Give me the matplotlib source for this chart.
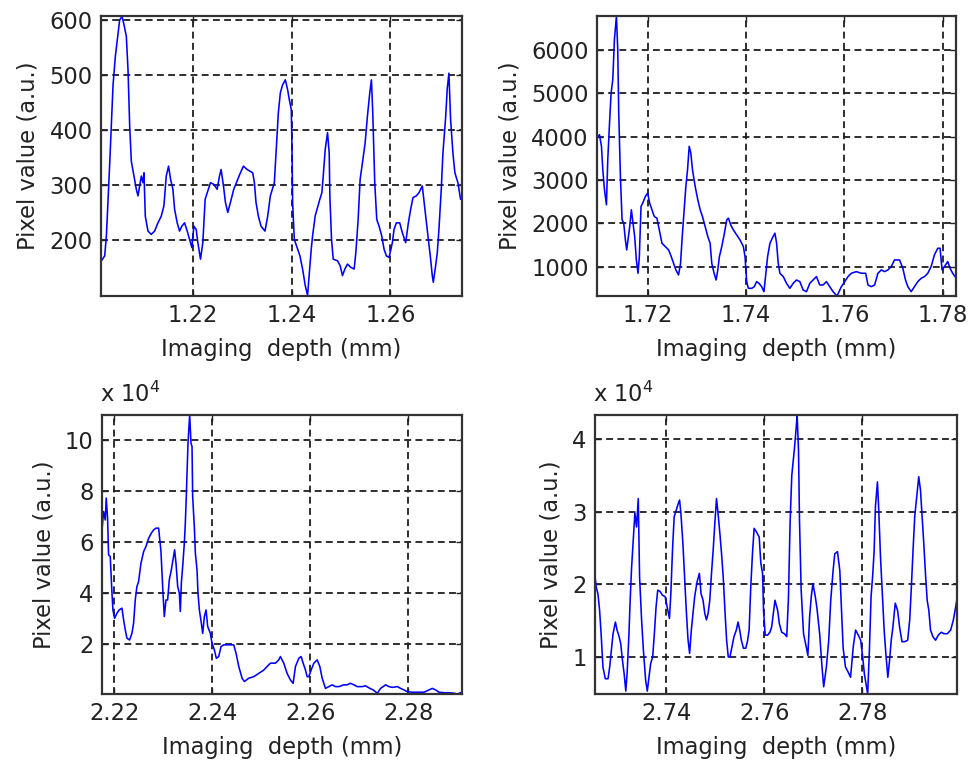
import matplotlib
matplotlib.use("Agg")
import matplotlib.pyplot as plt

plt.rcParams["font.family"] = ["DejaVu Sans"]

# ---- Panel A: 1.20 - 1.275 mm ----
depth_a = [1.20148, 1.20215, 1.20249, 1.20283, 1.20317, 1.20384, 1.20431, 1.20471, 1.20518, 1.20566,
           1.20606, 1.20653, 1.20687, 1.20721, 1.20754, 1.20808, 1.20855, 1.20889, 1.20923, 1.20956,
           1.20990, 1.21010, 1.21037, 1.21091, 1.21158, 1.21226, 1.21293, 1.21360, 1.21414, 1.21461,
           1.21508, 1.21549, 1.21596, 1.21630, 1.21683, 1.21731, 1.21778, 1.21832, 1.21886, 1.21933,
           1.21980, 1.22020, 1.22067, 1.22101, 1.22155, 1.22202, 1.22249, 1.22303, 1.22357, 1.22424,
           1.22492, 1.22539, 1.22572, 1.22620, 1.22660, 1.22707, 1.22761, 1.22828, 1.22896, 1.22963,
           1.23024, 1.23098, 1.23212, 1.23246, 1.23279, 1.23327, 1.23380, 1.23461, 1.23515, 1.23569,
           1.23650, 1.23684, 1.23731, 1.23771, 1.23818, 1.23872, 1.23919, 1.23953, 1.23993, 1.24007,
           1.24020, 1.24054, 1.24121, 1.24168, 1.24222, 1.24276, 1.24323, 1.24370, 1.24397, 1.24424,
           1.24478, 1.24525, 1.24572, 1.24613, 1.24640, 1.24680, 1.24727, 1.24761, 1.24774, 1.24808,
           1.24842, 1.24929, 1.24983, 1.25030, 1.25078, 1.25131, 1.25199, 1.25266, 1.25300, 1.25347,
           1.25387, 1.25434, 1.25488, 1.25535, 1.25582, 1.25616, 1.25643, 1.25683, 1.25724, 1.25771,
           1.25825, 1.25872, 1.25919, 1.25973, 1.26040, 1.26074, 1.26121, 1.26189, 1.26242, 1.26310,
           1.26364, 1.26411, 1.26458, 1.26525, 1.26579, 1.26646, 1.26714, 1.26768, 1.26815, 1.26848,
           1.26869, 1.26916, 1.26950, 1.26983, 1.27030, 1.27064, 1.27118, 1.27152, 1.27185, 1.27219,
           1.27266, 1.27306, 1.27367, 1.27421]
pixel_a = [162, 171, 207, 274, 340, 482, 534, 564, 600, 606,
           591, 570, 509, 407, 343, 316, 292, 280, 298, 316,
           304, 322, 243, 216, 210, 216, 231, 243, 262, 316,
           334, 310, 292, 256, 231, 216, 225, 231, 216, 201,
           186, 225, 219, 195, 165, 195, 274, 289, 304, 301,
           292, 316, 328, 298, 268, 250, 268, 292, 307, 322,
           334, 328, 322, 304, 268, 243, 225, 216, 243, 280,
           304, 358, 431, 467, 482, 491, 473, 455, 437, 370,
           268, 201, 183, 171, 147, 117, 99, 153, 183, 207,
           244, 259, 274, 286, 316, 364, 395, 358, 280, 201,
           165, 162, 153, 135, 147, 156, 150, 147, 177, 237,
           310, 340, 376, 425, 467, 491, 431, 304, 237, 225,
           207, 183, 171, 168, 195, 219, 231, 231, 213, 195,
           231, 256, 277, 280, 286, 298, 243, 201, 165, 135,
           123, 153, 177, 219, 292, 358, 422, 476, 503, 419,
           358, 322, 304, 274]

# ---- Panel B: 1.71 - 1.783 mm ----
depth_b = [1.70973, 1.71020, 1.71061, 1.71088, 1.71122, 1.71162, 1.71189, 1.71223, 1.71257, 1.71291,
           1.71324, 1.71365, 1.71392, 1.71412, 1.71446, 1.71480, 1.71514, 1.71547, 1.71574, 1.71601,
           1.71635, 1.71669, 1.71703, 1.71736, 1.71770, 1.71804, 1.71831, 1.71865, 1.71899, 1.71953,
           1.72000, 1.72041, 1.72088, 1.72135, 1.72189, 1.72236, 1.72291, 1.72358, 1.72426, 1.72480,
           1.72527, 1.72574, 1.72628, 1.72669, 1.72703, 1.72743, 1.72777, 1.72811, 1.72845, 1.72878,
           1.72912, 1.72966, 1.73020, 1.73068, 1.73115, 1.73169, 1.73223, 1.73270, 1.73304, 1.73351,
           1.73392, 1.73426, 1.73459, 1.73507, 1.73561, 1.73608, 1.73642, 1.73689, 1.73743, 1.73811,
           1.73878, 1.73946, 1.73980, 1.74014, 1.74047, 1.74115, 1.74169, 1.74216, 1.74264, 1.74318,
           1.74365, 1.74405, 1.74439, 1.74487, 1.74534, 1.74588, 1.74622, 1.74655, 1.74689, 1.74757,
           1.74824, 1.74892, 1.74959, 1.75027, 1.75095, 1.75162, 1.75230, 1.75297, 1.75365, 1.75432,
           1.75500, 1.75568, 1.75635, 1.75703, 1.75770, 1.75851, 1.75939, 1.76007, 1.76074, 1.76142,
           1.76243, 1.76345, 1.76433, 1.76480, 1.76547, 1.76615, 1.76682, 1.76750, 1.76818, 1.76885,
           1.76953, 1.77020, 1.77122, 1.77189, 1.77243, 1.77291, 1.77358, 1.77426, 1.77493, 1.77561,
           1.77629, 1.77696, 1.77764, 1.77831, 1.77899, 1.77946, 1.77987, 1.78034, 1.78102, 1.78149,
           1.78203, 1.78250]
pixel_b = [3971, 4048, 3778, 3238, 2775, 2428, 3469, 4279, 5012, 5321,
           6247, 6790, 6015, 4549, 3083, 2080, 2003, 1617, 1386, 1617,
           1926, 2312, 2003, 1695, 1154, 846, 1231, 2389, 2466, 2620,
           2698, 2466, 2312, 2157, 2119, 1849, 1540, 1463, 1386, 1231,
           1077, 923, 807, 1077, 1695, 2312, 2852, 3238, 3778, 3623,
           3238, 2852, 2543, 2312, 2157, 1926, 1695, 1540, 1077, 846,
           691, 923, 1231, 1463, 1772, 2080, 2119, 1965, 1849, 1733,
           1617, 1463, 1231, 653, 498, 498, 537, 653, 614, 537,
           421, 846, 1231, 1540, 1656, 1772, 1540, 1077, 846, 769,
           614, 498, 614, 691, 653, 460, 421, 614, 691, 769,
           576, 576, 653, 537, 421, 321, 537, 653, 769, 846,
           884, 846, 846, 576, 537, 576, 846, 923, 884, 923,
           1000, 1154, 1154, 961, 691, 537, 421, 537, 653, 730,
           769, 846, 1000, 1270, 1424, 1424, 923, 1000, 1116, 961,
           846, 769]

# ---- Panel C: 2.2175 - 2.291 mm (values in units of 1e4) ----
depth_c = [2.21748, 2.21782, 2.21816, 2.21836, 2.21864, 2.21884, 2.21918, 2.21952, 2.21973, 2.22007,
           2.22055, 2.22102, 2.22157, 2.22191, 2.22225, 2.22259, 2.22313, 2.22361, 2.22395, 2.22429,
           2.22463, 2.22497, 2.22545, 2.22600, 2.22647, 2.22702, 2.22756, 2.22804, 2.22852, 2.22906,
           2.22954, 2.22995, 2.23022, 2.23056, 2.23090, 2.23124, 2.23165, 2.23199, 2.23233, 2.23261,
           2.23295, 2.23329, 2.23349, 2.23370, 2.23397, 2.23431, 2.23451, 2.23472, 2.23506, 2.23540,
           2.23567, 2.23588, 2.23601, 2.23635, 2.23656, 2.23690, 2.23710, 2.23738, 2.23778, 2.23806,
           2.23840, 2.23874, 2.23908, 2.23962, 2.23997, 2.24044, 2.24085, 2.24133, 2.24180, 2.24235,
           2.24337, 2.24439, 2.24487, 2.24542, 2.24610, 2.24657, 2.24746, 2.24848, 2.24950, 2.25053,
           2.25121, 2.25189, 2.25291, 2.25359, 2.25393, 2.25461, 2.25529, 2.25597, 2.25652, 2.25700,
           2.25768, 2.25815, 2.25857, 2.25904, 2.25938, 2.25972, 2.26020, 2.26075, 2.26143, 2.26197,
           2.26245, 2.26313, 2.26381, 2.26449, 2.26518, 2.26586, 2.26688, 2.26756, 2.26824, 2.26892,
           2.26961, 2.27063, 2.27131, 2.27220, 2.27288, 2.27370, 2.27438, 2.27540, 2.27608, 2.27676,
           2.27779, 2.27847, 2.27915, 2.27983, 2.28085, 2.28187, 2.28324, 2.28426, 2.28494, 2.28562,
           2.28630, 2.28733, 2.28835, 2.28937, 2.29005, 2.29073]
pixel_c = [6.43, 7.21, 6.88, 7.74, 6.95, 5.51, 5.45, 4.07, 3.35, 3.02,
           3.22, 3.35, 3.42, 2.96, 2.57, 2.24, 2.17, 2.43, 2.83, 3.74,
           4.27, 4.46, 5.18, 5.64, 5.84, 6.16, 6.36, 6.49, 6.56, 6.56,
           5.64, 4.01, 3.09, 3.74, 3.74, 4.53, 4.92, 5.31, 5.71, 5.18,
           4.27, 4.01, 3.29, 4.40, 5.05, 5.97, 6.75, 7.87, 9.90, 11.0,
           9.90, 9.76, 7.80, 6.62, 5.58, 4.92, 4.01, 3.35, 2.83, 2.43,
           3.09, 3.35, 2.70, 2.43, 2.04, 1.78, 1.45, 1.52, 1.91, 1.98,
           1.98, 1.98, 1.65, 1.13, 0.67, 0.54, 0.67, 0.73, 0.86, 0.99,
           1.13, 1.26, 1.26, 1.39, 1.52, 1.26, 0.86, 0.60, 0.47, 1.13,
           1.45, 1.52, 1.26, 0.99, 0.73, 0.73, 0.99, 1.26, 1.39, 1.13,
           0.67, 0.27, 0.34, 0.41, 0.34, 0.34, 0.41, 0.41, 0.47, 0.41,
           0.34, 0.34, 0.37, 0.27, 0.21, 0.08, 0.27, 0.41, 0.34, 0.31,
           0.34, 0.27, 0.21, 0.14, 0.12, 0.12, 0.12, 0.21, 0.27, 0.21,
           0.12, 0.10, 0.10, 0.08, 0.05, 0.10]

# ---- Panel D: 2.7255 - 2.7993 mm (values in units of 1e4) ----
depth_d = [2.72541, 2.72575, 2.72610, 2.72644, 2.72678, 2.72712, 2.72760, 2.72815, 2.72849, 2.72884,
           2.72918, 2.72966, 2.73000, 2.73041, 2.73075, 2.73110, 2.73144, 2.73178, 2.73206, 2.73240,
           2.73267, 2.73295, 2.73329, 2.73363, 2.73397, 2.73432, 2.73459, 2.73500, 2.73534, 2.73582,
           2.73616, 2.73651, 2.73685, 2.73726, 2.73760, 2.73795, 2.73829, 2.73877, 2.73925, 2.73979,
           2.74027, 2.74068, 2.74096, 2.74130, 2.74164, 2.74205, 2.74247, 2.74274, 2.74301, 2.74342,
           2.74377, 2.74411, 2.74445, 2.74479, 2.74514, 2.74548, 2.74582, 2.74630, 2.74678, 2.74712,
           2.74753, 2.74788, 2.74822, 2.74856, 2.74890, 2.74925, 2.74959, 2.74993, 2.75027, 2.75062,
           2.75096, 2.75130, 2.75164, 2.75199, 2.75233, 2.75267, 2.75301, 2.75336, 2.75384, 2.75431,
           2.75466, 2.75500, 2.75534, 2.75575, 2.75623, 2.75657, 2.75692, 2.75726, 2.75760, 2.75794,
           2.75842, 2.75897, 2.75931, 2.75966, 2.75986, 2.76020, 2.76068, 2.76116, 2.76151, 2.76185,
           2.76219, 2.76274, 2.76308, 2.76356, 2.76411, 2.76459, 2.76493, 2.76527, 2.76562, 2.76616,
           2.76651, 2.76671, 2.76699, 2.76719, 2.76753, 2.76801, 2.76856, 2.76890, 2.76925, 2.76959,
           2.76993, 2.77041, 2.77075, 2.77130, 2.77178, 2.77212, 2.77267, 2.77315, 2.77356, 2.77404,
           2.77438, 2.77493, 2.77541, 2.77575, 2.77609, 2.77657, 2.77712, 2.77760, 2.77815, 2.77863,
           2.77918, 2.77966, 2.78007, 2.78041, 2.78075, 2.78109, 2.78144, 2.78178, 2.78212, 2.78240,
           2.78267, 2.78308, 2.78335, 2.78370, 2.78411, 2.78445, 2.78479, 2.78520, 2.78555, 2.78589,
           2.78623, 2.78671, 2.78719, 2.78760, 2.78808, 2.78863, 2.78924, 2.78966, 2.79000, 2.79034,
           2.79068, 2.79116, 2.79150, 2.79185, 2.79219, 2.79253, 2.79287, 2.79322, 2.79356, 2.79390,
           2.79438, 2.79493, 2.79548, 2.79609, 2.79664, 2.79733, 2.79801, 2.79856, 2.79904, 2.79930]
pixel_d = [2.17, 1.96, 1.87, 1.64, 1.28, 0.86, 0.70, 0.70, 0.86, 1.09,
           1.32, 1.48, 1.37, 1.28, 1.18, 0.95, 0.77, 0.53, 0.79, 1.28,
           1.78, 2.22, 2.61, 2.98, 2.79, 3.18, 2.10, 1.51, 1.12, 0.68,
           0.53, 0.72, 0.91, 1.00, 1.32, 1.69, 1.92, 1.90, 1.85, 1.83,
           1.67, 1.53, 1.87, 2.47, 2.93, 3.02, 3.11, 3.16, 2.98, 2.56,
           2.10, 1.64, 1.25, 1.05, 1.37, 1.60, 1.83, 2.03, 2.15, 1.87,
           1.78, 1.60, 1.51, 1.60, 1.78, 2.15, 2.47, 2.84, 3.18, 2.95,
           2.70, 2.42, 2.10, 1.64, 1.23, 1.00, 1.00, 1.12, 1.28, 1.37,
           1.48, 1.37, 1.23, 1.12, 1.12, 1.21, 1.37, 1.97, 2.42, 2.77,
           2.72, 2.65, 2.29, 2.15, 1.64, 1.30, 1.30, 1.34, 1.41, 1.60,
           1.78, 1.64, 1.46, 1.34, 1.32, 1.28, 1.80, 2.84, 3.50, 3.87,
           4.15, 4.33, 3.85, 2.88, 1.92, 1.32, 1.14, 1.02, 1.55, 1.83,
           2.01, 1.83, 1.67, 1.32, 0.86, 0.59, 0.86, 1.23, 1.78, 2.19,
           2.42, 2.45, 2.19, 1.64, 1.12, 0.86, 0.79, 0.72, 1.14, 1.37,
           1.30, 1.23, 1.00, 0.77, 0.63, 0.49, 1.09, 1.83, 2.13, 2.45,
           3.07, 3.41, 3.02, 2.38, 1.83, 1.37, 1.05, 0.72, 0.95, 1.23,
           1.41, 1.74, 1.64, 1.41, 1.21, 1.21, 1.23, 1.51, 1.97, 2.47,
           2.93, 3.25, 3.48, 3.30, 2.93, 2.56, 2.15, 1.78, 1.64, 1.37,
           1.28, 1.23, 1.30, 1.34, 1.32, 1.32, 1.37, 1.51, 1.69, 1.80]

xticks_a = [1.22, 1.24, 1.26]
yticks_a = [200, 300, 400, 500, 600]
xticks_b = [1.72, 1.74, 1.76, 1.78]
yticks_b = [1000, 2000, 3000, 4000, 5000, 6000]
xticks_c = [2.22, 2.24, 2.26, 2.28]
yticks_c = [2, 4, 6, 8, 10]
xticks_d = [2.74, 2.76, 2.78]
yticks_d = [1, 2, 3, 4]

W, H = 974, 767
fig = plt.figure(figsize=(W / 100, H / 100), dpi=100)

FS = 16.3
LINE_BLUE = "#0000ff"
TEXT_C = "#222222"


def add_panel(rect_px, xs, ys, xt, yt, xlim, ylim):
    l, t, r, b = rect_px
    ax = fig.add_axes([l / W, 1 - b / H, (r - l) / W, (b - t) / H])
    ax.plot(xs, ys, color=LINE_BLUE, lw=1.15)
    ax.set_xlim(*xlim)
    ax.set_ylim(*ylim)
    ax.set_xticks(xt)
    ax.set_xticklabels([f"{v:.2f}" for v in xt])
    ax.set_yticks(yt)
    ax.set_yticklabels([f"{v:d}" for v in yt])
    ax.grid(True, color="#1e1e1e", linestyle=(0, (3.8, 2.4)), linewidth=1.3)
    ax.tick_params(direction="in", length=4, width=1.0, top=True, right=True,
                   labelsize=FS, pad=6, colors="#222222", labelcolor=TEXT_C)
    for s in ax.spines.values():
        s.set_linewidth(1.6)
        s.set_color("#333333")
    ax.set_xlabel("Imaging  depth (mm)", fontsize=FS, labelpad=8, color=TEXT_C)
    ax.set_ylabel("Pixel value (a.u.)", fontsize=FS, labelpad=7, color=TEXT_C)
    return ax


ax1 = add_panel((101, 16, 462, 296), depth_a, pixel_a, xticks_a, yticks_a,
                (1.2014, 1.2745), (98, 607))
ax2 = add_panel((597, 16, 956, 296), depth_b, pixel_b, xticks_b, yticks_b,
                (1.7097, 1.7827), (321, 6790))
ax3 = add_panel((102, 415, 462, 694), depth_c, pixel_c, xticks_c, yticks_c,
                (2.2175, 2.2910), (0.05, 11.0))
ax4 = add_panel((595, 415, 957, 694), depth_d, pixel_d, xticks_d, yticks_d,
                (2.7255, 2.7993), (0.49, 4.33))

for ax in (ax3, ax4):
    ax.text(-0.005, 1.03, r"x $10^{4}$", transform=ax.transAxes, ha="left", va="bottom",
            fontsize=FS, color=TEXT_C)

fig.savefig("out.png", dpi=100)
